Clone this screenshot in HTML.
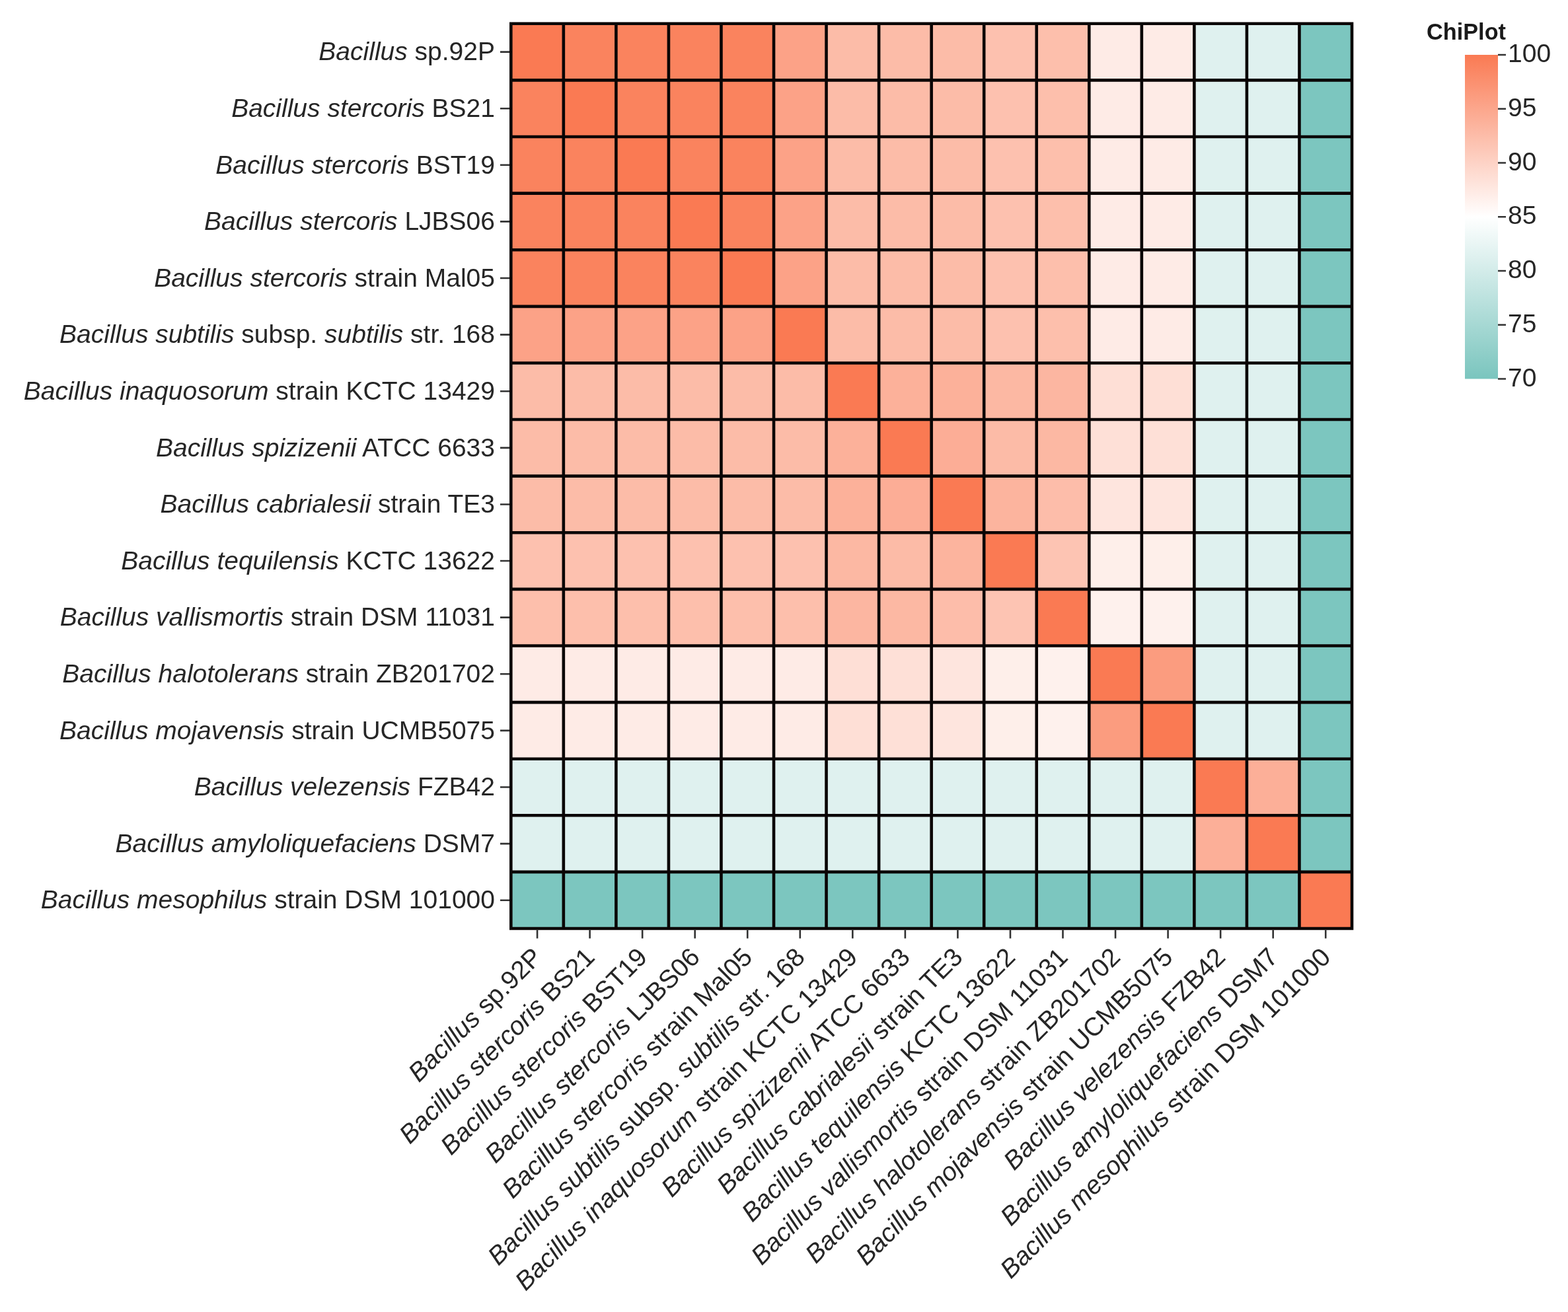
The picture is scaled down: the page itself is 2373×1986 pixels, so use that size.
<!DOCTYPE html>
<html><head><meta charset="utf-8"><style>
html,body{margin:0;padding:0;background:#fff;}
body{width:2373px;height:1986px;overflow:hidden;}
svg{display:block;}
text{font-family:"Liberation Sans",Arial,sans-serif;fill:#262626;}
</style></head><body>
<svg width="2373" height="1986" viewBox="0 0 2373 1986">
<defs><linearGradient id="cb" x1="0" y1="1" x2="0" y2="0">
<stop offset="0" stop-color="#7ac5be"/>
<stop offset="0.5000" stop-color="#ffffff"/>
<stop offset="1" stop-color="#fa7a53"/>
</linearGradient></defs>

<rect x="773.30" y="35.80" width="79.84" height="85.91" fill="#fa7a53"/>
<rect x="852.84" y="35.80" width="79.84" height="85.91" fill="#fa835e"/>
<rect x="932.39" y="35.80" width="79.84" height="85.91" fill="#fa835e"/>
<rect x="1011.93" y="35.80" width="79.84" height="85.91" fill="#fa835e"/>
<rect x="1091.47" y="35.80" width="79.84" height="85.91" fill="#fa835e"/>
<rect x="1171.02" y="35.80" width="79.84" height="85.91" fill="#fca287"/>
<rect x="1250.56" y="35.80" width="79.84" height="85.91" fill="#fcbca8"/>
<rect x="1330.11" y="35.80" width="79.84" height="85.91" fill="#fcbca8"/>
<rect x="1409.65" y="35.80" width="79.84" height="85.91" fill="#fcbca8"/>
<rect x="1489.19" y="35.80" width="79.84" height="85.91" fill="#fdc1af"/>
<rect x="1568.74" y="35.80" width="79.84" height="85.91" fill="#fdbfac"/>
<rect x="1648.28" y="35.80" width="79.84" height="85.91" fill="#feebe6"/>
<rect x="1727.83" y="35.80" width="79.84" height="85.91" fill="#feebe6"/>
<rect x="1807.37" y="35.80" width="79.84" height="85.91" fill="#dff1ef"/>
<rect x="1886.91" y="35.80" width="79.84" height="85.91" fill="#dff1ef"/>
<rect x="1966.46" y="35.80" width="79.84" height="85.91" fill="#7cc6bf"/>
<rect x="773.30" y="121.41" width="79.84" height="85.91" fill="#fa835e"/>
<rect x="852.84" y="121.41" width="79.84" height="85.91" fill="#fa7a53"/>
<rect x="932.39" y="121.41" width="79.84" height="85.91" fill="#fa835e"/>
<rect x="1011.93" y="121.41" width="79.84" height="85.91" fill="#fa835e"/>
<rect x="1091.47" y="121.41" width="79.84" height="85.91" fill="#fa835e"/>
<rect x="1171.02" y="121.41" width="79.84" height="85.91" fill="#fca287"/>
<rect x="1250.56" y="121.41" width="79.84" height="85.91" fill="#fcbca8"/>
<rect x="1330.11" y="121.41" width="79.84" height="85.91" fill="#fcbca8"/>
<rect x="1409.65" y="121.41" width="79.84" height="85.91" fill="#fcbca8"/>
<rect x="1489.19" y="121.41" width="79.84" height="85.91" fill="#fdc1af"/>
<rect x="1568.74" y="121.41" width="79.84" height="85.91" fill="#fdbfac"/>
<rect x="1648.28" y="121.41" width="79.84" height="85.91" fill="#feebe6"/>
<rect x="1727.83" y="121.41" width="79.84" height="85.91" fill="#feebe6"/>
<rect x="1807.37" y="121.41" width="79.84" height="85.91" fill="#dff1ef"/>
<rect x="1886.91" y="121.41" width="79.84" height="85.91" fill="#dff1ef"/>
<rect x="1966.46" y="121.41" width="79.84" height="85.91" fill="#7cc6bf"/>
<rect x="773.30" y="207.01" width="79.84" height="85.91" fill="#fa835e"/>
<rect x="852.84" y="207.01" width="79.84" height="85.91" fill="#fa835e"/>
<rect x="932.39" y="207.01" width="79.84" height="85.91" fill="#fa7a53"/>
<rect x="1011.93" y="207.01" width="79.84" height="85.91" fill="#fa835e"/>
<rect x="1091.47" y="207.01" width="79.84" height="85.91" fill="#fa835e"/>
<rect x="1171.02" y="207.01" width="79.84" height="85.91" fill="#fca287"/>
<rect x="1250.56" y="207.01" width="79.84" height="85.91" fill="#fcbca8"/>
<rect x="1330.11" y="207.01" width="79.84" height="85.91" fill="#fcbca8"/>
<rect x="1409.65" y="207.01" width="79.84" height="85.91" fill="#fcbca8"/>
<rect x="1489.19" y="207.01" width="79.84" height="85.91" fill="#fdc1af"/>
<rect x="1568.74" y="207.01" width="79.84" height="85.91" fill="#fdbfac"/>
<rect x="1648.28" y="207.01" width="79.84" height="85.91" fill="#feebe6"/>
<rect x="1727.83" y="207.01" width="79.84" height="85.91" fill="#feebe6"/>
<rect x="1807.37" y="207.01" width="79.84" height="85.91" fill="#dff1ef"/>
<rect x="1886.91" y="207.01" width="79.84" height="85.91" fill="#dff1ef"/>
<rect x="1966.46" y="207.01" width="79.84" height="85.91" fill="#7cc6bf"/>
<rect x="773.30" y="292.62" width="79.84" height="85.91" fill="#fa835e"/>
<rect x="852.84" y="292.62" width="79.84" height="85.91" fill="#fa835e"/>
<rect x="932.39" y="292.62" width="79.84" height="85.91" fill="#fa835e"/>
<rect x="1011.93" y="292.62" width="79.84" height="85.91" fill="#fa7a53"/>
<rect x="1091.47" y="292.62" width="79.84" height="85.91" fill="#fa835e"/>
<rect x="1171.02" y="292.62" width="79.84" height="85.91" fill="#fca287"/>
<rect x="1250.56" y="292.62" width="79.84" height="85.91" fill="#fcbca8"/>
<rect x="1330.11" y="292.62" width="79.84" height="85.91" fill="#fcbca8"/>
<rect x="1409.65" y="292.62" width="79.84" height="85.91" fill="#fcbca8"/>
<rect x="1489.19" y="292.62" width="79.84" height="85.91" fill="#fdc1af"/>
<rect x="1568.74" y="292.62" width="79.84" height="85.91" fill="#fdbfac"/>
<rect x="1648.28" y="292.62" width="79.84" height="85.91" fill="#feebe6"/>
<rect x="1727.83" y="292.62" width="79.84" height="85.91" fill="#feebe6"/>
<rect x="1807.37" y="292.62" width="79.84" height="85.91" fill="#dff1ef"/>
<rect x="1886.91" y="292.62" width="79.84" height="85.91" fill="#dff1ef"/>
<rect x="1966.46" y="292.62" width="79.84" height="85.91" fill="#7cc6bf"/>
<rect x="773.30" y="378.23" width="79.84" height="85.91" fill="#fa835e"/>
<rect x="852.84" y="378.23" width="79.84" height="85.91" fill="#fa835e"/>
<rect x="932.39" y="378.23" width="79.84" height="85.91" fill="#fa835e"/>
<rect x="1011.93" y="378.23" width="79.84" height="85.91" fill="#fa835e"/>
<rect x="1091.47" y="378.23" width="79.84" height="85.91" fill="#fa7a53"/>
<rect x="1171.02" y="378.23" width="79.84" height="85.91" fill="#fca287"/>
<rect x="1250.56" y="378.23" width="79.84" height="85.91" fill="#fcbca8"/>
<rect x="1330.11" y="378.23" width="79.84" height="85.91" fill="#fcbca8"/>
<rect x="1409.65" y="378.23" width="79.84" height="85.91" fill="#fcbca8"/>
<rect x="1489.19" y="378.23" width="79.84" height="85.91" fill="#fdc1af"/>
<rect x="1568.74" y="378.23" width="79.84" height="85.91" fill="#fdbfac"/>
<rect x="1648.28" y="378.23" width="79.84" height="85.91" fill="#feebe6"/>
<rect x="1727.83" y="378.23" width="79.84" height="85.91" fill="#feebe6"/>
<rect x="1807.37" y="378.23" width="79.84" height="85.91" fill="#dff1ef"/>
<rect x="1886.91" y="378.23" width="79.84" height="85.91" fill="#dff1ef"/>
<rect x="1966.46" y="378.23" width="79.84" height="85.91" fill="#7cc6bf"/>
<rect x="773.30" y="463.83" width="79.84" height="85.91" fill="#fca287"/>
<rect x="852.84" y="463.83" width="79.84" height="85.91" fill="#fca287"/>
<rect x="932.39" y="463.83" width="79.84" height="85.91" fill="#fca287"/>
<rect x="1011.93" y="463.83" width="79.84" height="85.91" fill="#fca287"/>
<rect x="1091.47" y="463.83" width="79.84" height="85.91" fill="#fca287"/>
<rect x="1171.02" y="463.83" width="79.84" height="85.91" fill="#fa7a53"/>
<rect x="1250.56" y="463.83" width="79.84" height="85.91" fill="#fcbca8"/>
<rect x="1330.11" y="463.83" width="79.84" height="85.91" fill="#fcbca8"/>
<rect x="1409.65" y="463.83" width="79.84" height="85.91" fill="#fcbca8"/>
<rect x="1489.19" y="463.83" width="79.84" height="85.91" fill="#fdc1af"/>
<rect x="1568.74" y="463.83" width="79.84" height="85.91" fill="#fdbfac"/>
<rect x="1648.28" y="463.83" width="79.84" height="85.91" fill="#feebe6"/>
<rect x="1727.83" y="463.83" width="79.84" height="85.91" fill="#feebe6"/>
<rect x="1807.37" y="463.83" width="79.84" height="85.91" fill="#dff1ef"/>
<rect x="1886.91" y="463.83" width="79.84" height="85.91" fill="#dff1ef"/>
<rect x="1966.46" y="463.83" width="79.84" height="85.91" fill="#7cc6bf"/>
<rect x="773.30" y="549.44" width="79.84" height="85.91" fill="#fcbca8"/>
<rect x="852.84" y="549.44" width="79.84" height="85.91" fill="#fcbca8"/>
<rect x="932.39" y="549.44" width="79.84" height="85.91" fill="#fcbca8"/>
<rect x="1011.93" y="549.44" width="79.84" height="85.91" fill="#fcbca8"/>
<rect x="1091.47" y="549.44" width="79.84" height="85.91" fill="#fcbca8"/>
<rect x="1171.02" y="549.44" width="79.84" height="85.91" fill="#fcbca8"/>
<rect x="1250.56" y="549.44" width="79.84" height="85.91" fill="#fa7a53"/>
<rect x="1330.11" y="549.44" width="79.84" height="85.91" fill="#fcb19a"/>
<rect x="1409.65" y="549.44" width="79.84" height="85.91" fill="#fcb19a"/>
<rect x="1489.19" y="549.44" width="79.84" height="85.91" fill="#fcb8a3"/>
<rect x="1568.74" y="549.44" width="79.84" height="85.91" fill="#fcb6a1"/>
<rect x="1648.28" y="549.44" width="79.84" height="85.91" fill="#fedfd6"/>
<rect x="1727.83" y="549.44" width="79.84" height="85.91" fill="#fedfd6"/>
<rect x="1807.37" y="549.44" width="79.84" height="85.91" fill="#dff1ef"/>
<rect x="1886.91" y="549.44" width="79.84" height="85.91" fill="#dff1ef"/>
<rect x="1966.46" y="549.44" width="79.84" height="85.91" fill="#7cc6bf"/>
<rect x="773.30" y="635.04" width="79.84" height="85.91" fill="#fcbca8"/>
<rect x="852.84" y="635.04" width="79.84" height="85.91" fill="#fcbca8"/>
<rect x="932.39" y="635.04" width="79.84" height="85.91" fill="#fcbca8"/>
<rect x="1011.93" y="635.04" width="79.84" height="85.91" fill="#fcbca8"/>
<rect x="1091.47" y="635.04" width="79.84" height="85.91" fill="#fcbca8"/>
<rect x="1171.02" y="635.04" width="79.84" height="85.91" fill="#fcbca8"/>
<rect x="1250.56" y="635.04" width="79.84" height="85.91" fill="#fcb19a"/>
<rect x="1330.11" y="635.04" width="79.84" height="85.91" fill="#fa7a53"/>
<rect x="1409.65" y="635.04" width="79.84" height="85.91" fill="#fcad96"/>
<rect x="1489.19" y="635.04" width="79.84" height="85.91" fill="#fcbba7"/>
<rect x="1568.74" y="635.04" width="79.84" height="85.91" fill="#fcb8a3"/>
<rect x="1648.28" y="635.04" width="79.84" height="85.91" fill="#fee0d7"/>
<rect x="1727.83" y="635.04" width="79.84" height="85.91" fill="#fee0d7"/>
<rect x="1807.37" y="635.04" width="79.84" height="85.91" fill="#dff1ef"/>
<rect x="1886.91" y="635.04" width="79.84" height="85.91" fill="#dff1ef"/>
<rect x="1966.46" y="635.04" width="79.84" height="85.91" fill="#7cc6bf"/>
<rect x="773.30" y="720.65" width="79.84" height="85.91" fill="#fcbca8"/>
<rect x="852.84" y="720.65" width="79.84" height="85.91" fill="#fcbca8"/>
<rect x="932.39" y="720.65" width="79.84" height="85.91" fill="#fcbca8"/>
<rect x="1011.93" y="720.65" width="79.84" height="85.91" fill="#fcbca8"/>
<rect x="1091.47" y="720.65" width="79.84" height="85.91" fill="#fcbca8"/>
<rect x="1171.02" y="720.65" width="79.84" height="85.91" fill="#fcbca8"/>
<rect x="1250.56" y="720.65" width="79.84" height="85.91" fill="#fcb19a"/>
<rect x="1330.11" y="720.65" width="79.84" height="85.91" fill="#fcad96"/>
<rect x="1409.65" y="720.65" width="79.84" height="85.91" fill="#fa7a53"/>
<rect x="1489.19" y="720.65" width="79.84" height="85.91" fill="#fcb49e"/>
<rect x="1568.74" y="720.65" width="79.84" height="85.91" fill="#fdbdaa"/>
<rect x="1648.28" y="720.65" width="79.84" height="85.91" fill="#fee5de"/>
<rect x="1727.83" y="720.65" width="79.84" height="85.91" fill="#fee5de"/>
<rect x="1807.37" y="720.65" width="79.84" height="85.91" fill="#dff1ef"/>
<rect x="1886.91" y="720.65" width="79.84" height="85.91" fill="#dff1ef"/>
<rect x="1966.46" y="720.65" width="79.84" height="85.91" fill="#7cc6bf"/>
<rect x="773.30" y="806.26" width="79.84" height="85.91" fill="#fdc1af"/>
<rect x="852.84" y="806.26" width="79.84" height="85.91" fill="#fdc1af"/>
<rect x="932.39" y="806.26" width="79.84" height="85.91" fill="#fdc1af"/>
<rect x="1011.93" y="806.26" width="79.84" height="85.91" fill="#fdc1af"/>
<rect x="1091.47" y="806.26" width="79.84" height="85.91" fill="#fdc1af"/>
<rect x="1171.02" y="806.26" width="79.84" height="85.91" fill="#fdc1af"/>
<rect x="1250.56" y="806.26" width="79.84" height="85.91" fill="#fcb8a3"/>
<rect x="1330.11" y="806.26" width="79.84" height="85.91" fill="#fcbba7"/>
<rect x="1409.65" y="806.26" width="79.84" height="85.91" fill="#fcb49e"/>
<rect x="1489.19" y="806.26" width="79.84" height="85.91" fill="#fa7a53"/>
<rect x="1568.74" y="806.26" width="79.84" height="85.91" fill="#fdc4b3"/>
<rect x="1648.28" y="806.26" width="79.84" height="85.91" fill="#feefea"/>
<rect x="1727.83" y="806.26" width="79.84" height="85.91" fill="#feefea"/>
<rect x="1807.37" y="806.26" width="79.84" height="85.91" fill="#dff1ef"/>
<rect x="1886.91" y="806.26" width="79.84" height="85.91" fill="#dff1ef"/>
<rect x="1966.46" y="806.26" width="79.84" height="85.91" fill="#7cc6bf"/>
<rect x="773.30" y="891.86" width="79.84" height="85.91" fill="#fdbfac"/>
<rect x="852.84" y="891.86" width="79.84" height="85.91" fill="#fdbfac"/>
<rect x="932.39" y="891.86" width="79.84" height="85.91" fill="#fdbfac"/>
<rect x="1011.93" y="891.86" width="79.84" height="85.91" fill="#fdbfac"/>
<rect x="1091.47" y="891.86" width="79.84" height="85.91" fill="#fdbfac"/>
<rect x="1171.02" y="891.86" width="79.84" height="85.91" fill="#fdbfac"/>
<rect x="1250.56" y="891.86" width="79.84" height="85.91" fill="#fcb6a1"/>
<rect x="1330.11" y="891.86" width="79.84" height="85.91" fill="#fcb8a3"/>
<rect x="1409.65" y="891.86" width="79.84" height="85.91" fill="#fdbdaa"/>
<rect x="1489.19" y="891.86" width="79.84" height="85.91" fill="#fdc4b3"/>
<rect x="1568.74" y="891.86" width="79.84" height="85.91" fill="#fa7a53"/>
<rect x="1648.28" y="891.86" width="79.84" height="85.91" fill="#fef1ed"/>
<rect x="1727.83" y="891.86" width="79.84" height="85.91" fill="#fef1ed"/>
<rect x="1807.37" y="891.86" width="79.84" height="85.91" fill="#dff1ef"/>
<rect x="1886.91" y="891.86" width="79.84" height="85.91" fill="#dff1ef"/>
<rect x="1966.46" y="891.86" width="79.84" height="85.91" fill="#7cc6bf"/>
<rect x="773.30" y="977.47" width="79.84" height="85.91" fill="#feebe6"/>
<rect x="852.84" y="977.47" width="79.84" height="85.91" fill="#feebe6"/>
<rect x="932.39" y="977.47" width="79.84" height="85.91" fill="#feebe6"/>
<rect x="1011.93" y="977.47" width="79.84" height="85.91" fill="#feebe6"/>
<rect x="1091.47" y="977.47" width="79.84" height="85.91" fill="#feebe6"/>
<rect x="1171.02" y="977.47" width="79.84" height="85.91" fill="#feebe6"/>
<rect x="1250.56" y="977.47" width="79.84" height="85.91" fill="#fedfd6"/>
<rect x="1330.11" y="977.47" width="79.84" height="85.91" fill="#fee0d7"/>
<rect x="1409.65" y="977.47" width="79.84" height="85.91" fill="#fee5de"/>
<rect x="1489.19" y="977.47" width="79.84" height="85.91" fill="#feefea"/>
<rect x="1568.74" y="977.47" width="79.84" height="85.91" fill="#fef1ed"/>
<rect x="1648.28" y="977.47" width="79.84" height="85.91" fill="#fa7a53"/>
<rect x="1727.83" y="977.47" width="79.84" height="85.91" fill="#fb9c7f"/>
<rect x="1807.37" y="977.47" width="79.84" height="85.91" fill="#dff1ef"/>
<rect x="1886.91" y="977.47" width="79.84" height="85.91" fill="#dff1ef"/>
<rect x="1966.46" y="977.47" width="79.84" height="85.91" fill="#7cc6bf"/>
<rect x="773.30" y="1063.08" width="79.84" height="85.91" fill="#feebe6"/>
<rect x="852.84" y="1063.08" width="79.84" height="85.91" fill="#feebe6"/>
<rect x="932.39" y="1063.08" width="79.84" height="85.91" fill="#feebe6"/>
<rect x="1011.93" y="1063.08" width="79.84" height="85.91" fill="#feebe6"/>
<rect x="1091.47" y="1063.08" width="79.84" height="85.91" fill="#feebe6"/>
<rect x="1171.02" y="1063.08" width="79.84" height="85.91" fill="#feebe6"/>
<rect x="1250.56" y="1063.08" width="79.84" height="85.91" fill="#fedfd6"/>
<rect x="1330.11" y="1063.08" width="79.84" height="85.91" fill="#fee0d7"/>
<rect x="1409.65" y="1063.08" width="79.84" height="85.91" fill="#fee5de"/>
<rect x="1489.19" y="1063.08" width="79.84" height="85.91" fill="#feefea"/>
<rect x="1568.74" y="1063.08" width="79.84" height="85.91" fill="#fef1ed"/>
<rect x="1648.28" y="1063.08" width="79.84" height="85.91" fill="#fb9c7f"/>
<rect x="1727.83" y="1063.08" width="79.84" height="85.91" fill="#fa7a53"/>
<rect x="1807.37" y="1063.08" width="79.84" height="85.91" fill="#dff1ef"/>
<rect x="1886.91" y="1063.08" width="79.84" height="85.91" fill="#dff1ef"/>
<rect x="1966.46" y="1063.08" width="79.84" height="85.91" fill="#7cc6bf"/>
<rect x="773.30" y="1148.68" width="79.84" height="85.91" fill="#dff1ef"/>
<rect x="852.84" y="1148.68" width="79.84" height="85.91" fill="#dff1ef"/>
<rect x="932.39" y="1148.68" width="79.84" height="85.91" fill="#dff1ef"/>
<rect x="1011.93" y="1148.68" width="79.84" height="85.91" fill="#dff1ef"/>
<rect x="1091.47" y="1148.68" width="79.84" height="85.91" fill="#dff1ef"/>
<rect x="1171.02" y="1148.68" width="79.84" height="85.91" fill="#dff1ef"/>
<rect x="1250.56" y="1148.68" width="79.84" height="85.91" fill="#dff1ef"/>
<rect x="1330.11" y="1148.68" width="79.84" height="85.91" fill="#dff1ef"/>
<rect x="1409.65" y="1148.68" width="79.84" height="85.91" fill="#dff1ef"/>
<rect x="1489.19" y="1148.68" width="79.84" height="85.91" fill="#dff1ef"/>
<rect x="1568.74" y="1148.68" width="79.84" height="85.91" fill="#dff1ef"/>
<rect x="1648.28" y="1148.68" width="79.84" height="85.91" fill="#dff1ef"/>
<rect x="1727.83" y="1148.68" width="79.84" height="85.91" fill="#dff1ef"/>
<rect x="1807.37" y="1148.68" width="79.84" height="85.91" fill="#fa7a53"/>
<rect x="1886.91" y="1148.68" width="79.84" height="85.91" fill="#fcaf98"/>
<rect x="1966.46" y="1148.68" width="79.84" height="85.91" fill="#7cc6bf"/>
<rect x="773.30" y="1234.29" width="79.84" height="85.91" fill="#dff1ef"/>
<rect x="852.84" y="1234.29" width="79.84" height="85.91" fill="#dff1ef"/>
<rect x="932.39" y="1234.29" width="79.84" height="85.91" fill="#dff1ef"/>
<rect x="1011.93" y="1234.29" width="79.84" height="85.91" fill="#dff1ef"/>
<rect x="1091.47" y="1234.29" width="79.84" height="85.91" fill="#dff1ef"/>
<rect x="1171.02" y="1234.29" width="79.84" height="85.91" fill="#dff1ef"/>
<rect x="1250.56" y="1234.29" width="79.84" height="85.91" fill="#dff1ef"/>
<rect x="1330.11" y="1234.29" width="79.84" height="85.91" fill="#dff1ef"/>
<rect x="1409.65" y="1234.29" width="79.84" height="85.91" fill="#dff1ef"/>
<rect x="1489.19" y="1234.29" width="79.84" height="85.91" fill="#dff1ef"/>
<rect x="1568.74" y="1234.29" width="79.84" height="85.91" fill="#dff1ef"/>
<rect x="1648.28" y="1234.29" width="79.84" height="85.91" fill="#dff1ef"/>
<rect x="1727.83" y="1234.29" width="79.84" height="85.91" fill="#dff1ef"/>
<rect x="1807.37" y="1234.29" width="79.84" height="85.91" fill="#fcaf98"/>
<rect x="1886.91" y="1234.29" width="79.84" height="85.91" fill="#fa7a53"/>
<rect x="1966.46" y="1234.29" width="79.84" height="85.91" fill="#7cc6bf"/>
<rect x="773.30" y="1319.89" width="79.84" height="85.91" fill="#7cc6bf"/>
<rect x="852.84" y="1319.89" width="79.84" height="85.91" fill="#7cc6bf"/>
<rect x="932.39" y="1319.89" width="79.84" height="85.91" fill="#7cc6bf"/>
<rect x="1011.93" y="1319.89" width="79.84" height="85.91" fill="#7cc6bf"/>
<rect x="1091.47" y="1319.89" width="79.84" height="85.91" fill="#7cc6bf"/>
<rect x="1171.02" y="1319.89" width="79.84" height="85.91" fill="#7cc6bf"/>
<rect x="1250.56" y="1319.89" width="79.84" height="85.91" fill="#7cc6bf"/>
<rect x="1330.11" y="1319.89" width="79.84" height="85.91" fill="#7cc6bf"/>
<rect x="1409.65" y="1319.89" width="79.84" height="85.91" fill="#7cc6bf"/>
<rect x="1489.19" y="1319.89" width="79.84" height="85.91" fill="#7cc6bf"/>
<rect x="1568.74" y="1319.89" width="79.84" height="85.91" fill="#7cc6bf"/>
<rect x="1648.28" y="1319.89" width="79.84" height="85.91" fill="#7cc6bf"/>
<rect x="1727.83" y="1319.89" width="79.84" height="85.91" fill="#7cc6bf"/>
<rect x="1807.37" y="1319.89" width="79.84" height="85.91" fill="#7cc6bf"/>
<rect x="1886.91" y="1319.89" width="79.84" height="85.91" fill="#7cc6bf"/>
<rect x="1966.46" y="1319.89" width="79.84" height="85.91" fill="#fa7a53"/>
<path d="M773.30 33.50V1407.80M771.00 35.80H2048.30M852.84 33.50V1407.80M771.00 121.41H2048.30M932.39 33.50V1407.80M771.00 207.01H2048.30M1011.93 33.50V1407.80M771.00 292.62H2048.30M1091.47 33.50V1407.80M771.00 378.23H2048.30M1171.02 33.50V1407.80M771.00 463.83H2048.30M1250.56 33.50V1407.80M771.00 549.44H2048.30M1330.11 33.50V1407.80M771.00 635.04H2048.30M1409.65 33.50V1407.80M771.00 720.65H2048.30M1489.19 33.50V1407.80M771.00 806.26H2048.30M1568.74 33.50V1407.80M771.00 891.86H2048.30M1648.28 33.50V1407.80M771.00 977.47H2048.30M1727.83 33.50V1407.80M771.00 1063.08H2048.30M1807.37 33.50V1407.80M771.00 1148.68H2048.30M1886.91 33.50V1407.80M771.00 1234.29H2048.30M1966.46 33.50V1407.80M771.00 1319.89H2048.30M2046.00 33.50V1407.80M771.00 1405.50H2048.30" stroke="#0a0505" stroke-width="4.6" fill="none"/>
<path d="M757.0 78.60H771.00M813.07 1407.80V1420.50M757.0 164.21H771.00M892.62 1407.80V1420.50M757.0 249.82H771.00M972.16 1407.80V1420.50M757.0 335.42H771.00M1051.70 1407.80V1420.50M757.0 421.03H771.00M1131.25 1407.80V1420.50M757.0 506.63H771.00M1210.79 1407.80V1420.50M757.0 592.24H771.00M1290.33 1407.80V1420.50M757.0 677.85H771.00M1369.88 1407.80V1420.50M757.0 763.45H771.00M1449.42 1407.80V1420.50M757.0 849.06H771.00M1528.97 1407.80V1420.50M757.0 934.67H771.00M1608.51 1407.80V1420.50M757.0 1020.27H771.00M1688.05 1407.80V1420.50M757.0 1105.88H771.00M1767.60 1407.80V1420.50M757.0 1191.48H771.00M1847.14 1407.80V1420.50M757.0 1277.09H771.00M1926.68 1407.80V1420.50M757.0 1362.70H771.00M2006.23 1407.80V1420.50" stroke="#333" stroke-width="2.6" fill="none"/>
<text x="749.0" y="91.32" font-size="39.0" text-anchor="end"><tspan font-style="italic">Bacillus</tspan> sp.92P</text>
<text x="749.0" y="176.92" font-size="39.0" text-anchor="end"><tspan font-style="italic">Bacillus stercoris</tspan> BS21</text>
<text x="749.0" y="262.53" font-size="39.0" text-anchor="end"><tspan font-style="italic">Bacillus stercoris</tspan> BST19</text>
<text x="749.0" y="348.14" font-size="39.0" text-anchor="end"><tspan font-style="italic">Bacillus stercoris</tspan> LJBS06</text>
<text x="749.0" y="433.74" font-size="39.0" text-anchor="end"><tspan font-style="italic">Bacillus stercoris</tspan> strain Mal05</text>
<text x="749.0" y="519.35" font-size="39.0" text-anchor="end"><tspan font-style="italic">Bacillus subtilis</tspan> subsp. <tspan font-style="italic">subtilis</tspan> str. 168</text>
<text x="749.0" y="604.95" font-size="39.0" text-anchor="end"><tspan font-style="italic">Bacillus inaquosorum</tspan> strain KCTC 13429</text>
<text x="749.0" y="690.56" font-size="39.0" text-anchor="end"><tspan font-style="italic">Bacillus spizizenii</tspan> ATCC 6633</text>
<text x="749.0" y="776.17" font-size="39.0" text-anchor="end"><tspan font-style="italic">Bacillus cabrialesii</tspan> strain TE3</text>
<text x="749.0" y="861.77" font-size="39.0" text-anchor="end"><tspan font-style="italic">Bacillus tequilensis</tspan> KCTC 13622</text>
<text x="749.0" y="947.38" font-size="39.0" text-anchor="end"><tspan font-style="italic">Bacillus vallismortis</tspan> strain DSM 11031</text>
<text x="749.0" y="1032.99" font-size="39.0" text-anchor="end"><tspan font-style="italic">Bacillus halotolerans</tspan> strain ZB201702</text>
<text x="749.0" y="1118.59" font-size="39.0" text-anchor="end"><tspan font-style="italic">Bacillus mojavensis</tspan> strain UCMB5075</text>
<text x="749.0" y="1204.20" font-size="39.0" text-anchor="end"><tspan font-style="italic">Bacillus velezensis</tspan> FZB42</text>
<text x="749.0" y="1289.80" font-size="39.0" text-anchor="end"><tspan font-style="italic">Bacillus amyloliquefaciens</tspan> DSM7</text>
<text x="749.0" y="1375.41" font-size="39.0" text-anchor="end"><tspan font-style="italic">Bacillus mesophilus</tspan> strain DSM 101000</text>
<text transform="translate(813.07,1441.5) rotate(-45)" x="0" y="13.51" font-size="39.0" text-anchor="end"><tspan font-style="italic">Bacillus</tspan> sp.92P</text>
<text transform="translate(892.62,1441.5) rotate(-45)" x="0" y="13.51" font-size="39.0" text-anchor="end"><tspan font-style="italic">Bacillus stercoris</tspan> BS21</text>
<text transform="translate(972.16,1441.5) rotate(-45)" x="0" y="13.51" font-size="39.0" text-anchor="end"><tspan font-style="italic">Bacillus stercoris</tspan> BST19</text>
<text transform="translate(1051.70,1441.5) rotate(-45)" x="0" y="13.51" font-size="39.0" text-anchor="end"><tspan font-style="italic">Bacillus stercoris</tspan> LJBS06</text>
<text transform="translate(1131.25,1441.5) rotate(-45)" x="0" y="13.51" font-size="39.0" text-anchor="end"><tspan font-style="italic">Bacillus stercoris</tspan> strain Mal05</text>
<text transform="translate(1210.79,1441.5) rotate(-45)" x="0" y="13.51" font-size="39.0" text-anchor="end"><tspan font-style="italic">Bacillus subtilis</tspan> subsp. <tspan font-style="italic">subtilis</tspan> str. 168</text>
<text transform="translate(1290.33,1441.5) rotate(-45)" x="0" y="13.51" font-size="39.0" text-anchor="end"><tspan font-style="italic">Bacillus inaquosorum</tspan> strain KCTC 13429</text>
<text transform="translate(1369.88,1441.5) rotate(-45)" x="0" y="13.51" font-size="39.0" text-anchor="end"><tspan font-style="italic">Bacillus spizizenii</tspan> ATCC 6633</text>
<text transform="translate(1449.42,1441.5) rotate(-45)" x="0" y="13.51" font-size="39.0" text-anchor="end"><tspan font-style="italic">Bacillus cabrialesii</tspan> strain TE3</text>
<text transform="translate(1528.97,1441.5) rotate(-45)" x="0" y="13.51" font-size="39.0" text-anchor="end"><tspan font-style="italic">Bacillus tequilensis</tspan> KCTC 13622</text>
<text transform="translate(1608.51,1441.5) rotate(-45)" x="0" y="13.51" font-size="39.0" text-anchor="end"><tspan font-style="italic">Bacillus vallismortis</tspan> strain DSM 11031</text>
<text transform="translate(1688.05,1441.5) rotate(-45)" x="0" y="13.51" font-size="39.0" text-anchor="end"><tspan font-style="italic">Bacillus halotolerans</tspan> strain ZB201702</text>
<text transform="translate(1767.60,1441.5) rotate(-45)" x="0" y="13.51" font-size="39.0" text-anchor="end"><tspan font-style="italic">Bacillus mojavensis</tspan> strain UCMB5075</text>
<text transform="translate(1847.14,1441.5) rotate(-45)" x="0" y="13.51" font-size="39.0" text-anchor="end"><tspan font-style="italic">Bacillus velezensis</tspan> FZB42</text>
<text transform="translate(1926.68,1441.5) rotate(-45)" x="0" y="13.51" font-size="39.0" text-anchor="end"><tspan font-style="italic">Bacillus amyloliquefaciens</tspan> DSM7</text>
<text transform="translate(2006.23,1441.5) rotate(-45)" x="0" y="13.51" font-size="39.0" text-anchor="end"><tspan font-style="italic">Bacillus mesophilus</tspan> strain DSM 101000</text>
<rect x="2217" y="83.0" width="50" height="490.5" fill="url(#cb)"/>
<text x="2282" y="94.01" font-size="39.0">100</text>
<text x="2282" y="175.76" font-size="39.0">95</text>
<text x="2282" y="257.51" font-size="39.0">90</text>
<text x="2282" y="339.26" font-size="39.0">85</text>
<text x="2282" y="421.01" font-size="39.0">80</text>
<text x="2282" y="502.76" font-size="39.0">75</text>
<text x="2282" y="584.51" font-size="39.0">70</text>
<path d="M2267 83.00H2279M2267 164.75H2279M2267 246.50H2279M2267 328.25H2279M2267 410.00H2279M2267 491.75H2279M2267 573.50H2279" stroke="#333" stroke-width="2.6" fill="none"/>
<text x="2159" y="59.5" font-size="34.3" font-weight="bold" style="fill:#1a1a1a">ChiPlot</text>
</svg></body></html>
